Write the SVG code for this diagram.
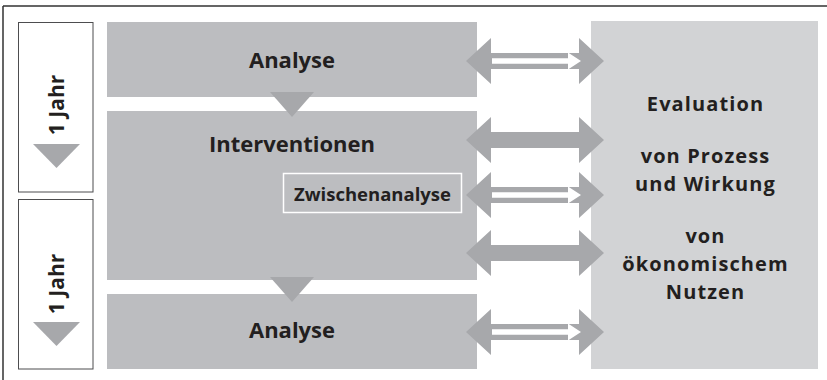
<svg xmlns="http://www.w3.org/2000/svg" width="827" height="380" viewBox="0 0 827 380">
<style>
.blk{fill:#bcbdc0}
.eval{fill:#d2d3d5}
.dark{fill:#a7a8ab}
.yr{fill:#ffffff;stroke:#4d4d4f;stroke-width:1}
.t{font-family:"Open Sans","Noto Sans","DejaVu Sans",sans-serif;font-weight:bold;fill:#231f20;text-anchor:middle}
.et{font-size:20px;letter-spacing:1.1px}
.wl{stroke:#ffffff;stroke-width:5.5}
.wh{fill:#ffffff}
</style>
<defs>
<path id="arr" d="M466,0 L491,-23 L491,-8 L579,-8 L579,-23 L604,0 L579,23 L579,8 L491,8 L491,23 Z"/>
<g id="hollow">
<use href="#arr"/>
<line class="wl" x1="492" y1="0" x2="570" y2="0"/>
<path class="wh" d="M568,-8.5 L581,0 L568,8.5 Z"/>
</g>
</defs>
<g id="frame">
<path d="M3,6 L827,6 M3,6 L3,380" fill="none" stroke="#333" stroke-width="1.5"/>
</g>
<g id="year1">
<rect class="yr" x="18.5" y="22.5" width="74.5" height="169.5"/>
<text class="t" font-size="21" transform="translate(63.5,105) rotate(-90)">1 Jahr</text>
<path class="dark" d="M33,144 L80,144 L56.5,168 Z"/>
</g>
<g id="year2">
<rect class="yr" x="18.5" y="199.5" width="74.5" height="169.5"/>
<text class="t" font-size="21" transform="translate(63.5,284) rotate(-90)">1 Jahr</text>
<path class="dark" d="M33,322 L80,322 L56.5,346 Z"/>
</g>
<g id="analyse1">
<rect class="blk" x="107" y="22" width="370" height="75"/>
<text class="t" font-size="22" x="292" y="67.5">Analyse</text>
</g>
<g id="interventionen">
<rect class="blk" x="107" y="111" width="370" height="169"/>
<text class="t" font-size="22" x="292" y="152">Interventionen</text>
</g>
<g id="zwischenanalyse">
<rect x="283.5" y="173.5" width="178" height="39" fill="none" stroke="#ffffff" stroke-width="1.5"/>
<text class="t" font-size="18.5" x="372.5" y="201">Zwischenanalyse</text>
</g>
<g id="analyse2">
<rect class="blk" x="107" y="294" width="370" height="75"/>
<text class="t" font-size="22" x="292" y="338">Analyse</text>
</g>
<g id="evaluation">
<rect class="eval" x="591" y="21" width="227" height="348"/>
<text class="t et" x="705.5" y="111">Evaluation</text>
<text class="t et" x="705.5" y="162.5">von Prozess</text>
<text class="t et" x="705.5" y="190.5">und Wirkung</text>
<text class="t et" x="705.5" y="242.5">von</text>
<text class="t et" x="705.5" y="270.5">ökonomischem</text>
<text class="t et" x="705.5" y="298.5">Nutzen</text>
</g>
<g id="connectors" class="dark">
<path d="M270,92 L314,92 L292,117 Z"/>
<path d="M270,277 L314,277 L292,302 Z"/>
<use href="#hollow" transform="translate(0,61)"/>
<use href="#arr" transform="translate(0,140)"/>
<use href="#hollow" transform="translate(0,195)"/>
<use href="#arr" transform="translate(0,253)"/>
<use href="#hollow" transform="translate(0,332)"/>
</g>
</svg>
